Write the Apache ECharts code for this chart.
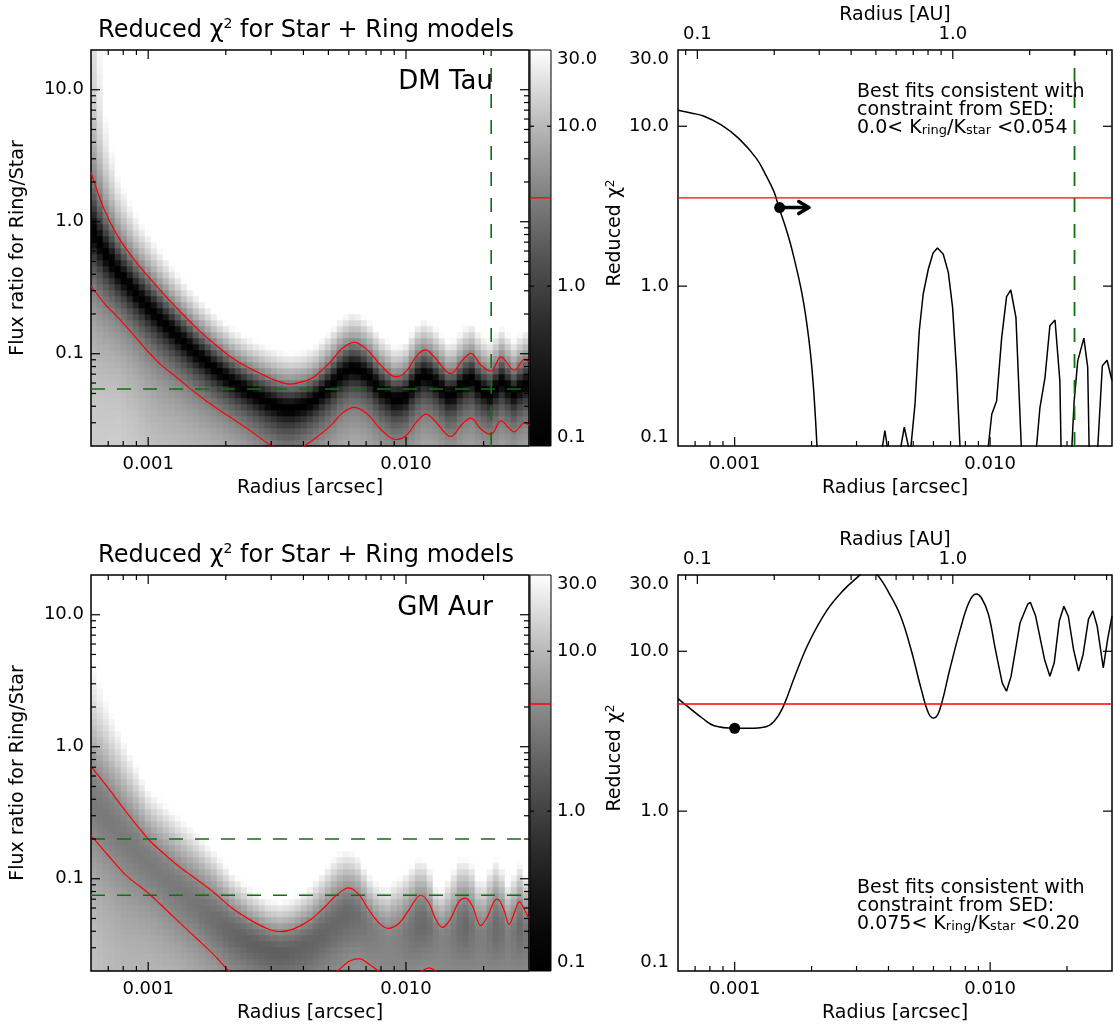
<!DOCTYPE html>
<html><head><meta charset="utf-8">
<script src="https://cdn.jsdelivr.net/npm/echarts@6/dist/echarts.min.js"></script>
<style>html,body{margin:0;padding:0;background:#fff}#c{width:1115px;height:1030px}</style>
</head><body><div id="c"></div><script>
// ---------------- axis ranges & ticks ----------------
const R_MIN = 0.0006, R_MAX = 0.03;          // arcsec
const F_MIN = 0.02, F_MAX = 20;              // flux ratio
const CHI_MIN = 0.1, CHI_MAX = 30;           // reduced chi^2
const DIST_PC = 140;                         // AU per arcsec
const R_MAJOR = [0.001, 0.01];
const R_MINOR = [0.0007, 0.0008, 0.0009, 0.002, 0.003, 0.004, 0.005, 0.006, 0.007, 0.008, 0.009, 0.02];
const F_MAJOR = [0.1, 1, 10];
const F_MINOR = [0.03, 0.04, 0.05, 0.06, 0.07, 0.08, 0.09, 0.2, 0.3, 0.4, 0.5, 0.6, 0.7, 0.8, 0.9, 2, 3, 4, 5, 6, 7, 8, 9];
const AU_MAJOR = [0.1, 1];
const AU_MINOR = [0.09, 0.2, 0.3, 0.4, 0.5, 0.6, 0.7, 0.8, 0.9, 2, 3, 4];
const CHI_MAJOR = [1, 10];

// ---------------- DM Tau ----------------
const DM_NODE_R = [0.000600, 0.000676, 0.000766, 0.000889, 0.001000, 0.001117, 0.001309, 0.001538, 0.001803, 0.002113,
  0.002477, 0.002904, 0.003258, 0.003548, 0.003981, 0.004385, 0.005093, 0.005662, 0.006310, 0.007079,
  0.007980, 0.009120, 0.009977, 0.011066, 0.011940, 0.012853, 0.014928, 0.016558, 0.017865, 0.019543,
  0.021380, 0.023335, 0.026303, 0.028840, 0.030000];
const DM_UPPER = [2.37, 1.23, 0.764, 0.507, 0.385, 0.301, 0.216, 0.157, 0.119, 0.0933,
  0.0776, 0.0668, 0.061, 0.0589, 0.0615, 0.0667, 0.0869, 0.110, 0.122, 0.107,
  0.0819, 0.0667, 0.0728, 0.0977, 0.107, 0.0948, 0.0706, 0.0895, 0.1005, 0.0819,
  0.0737, 0.0948, 0.075, 0.0905, 0.087];
const DM_LOWER = [0.326, 0.241, 0.187, 0.135, 0.1035, 0.083, 0.0646, 0.050, 0.0398, 0.0324,
  0.0263, 0.0210, 0.0185, 0.0178, 0.0198, 0.0224, 0.0284, 0.0355, 0.0393, 0.0349,
  0.0268, 0.0224, 0.0238, 0.031, 0.0349, 0.0315, 0.0236, 0.0295, 0.0325, 0.0268,
  0.0245, 0.031, 0.0256, 0.0301, 0.0287];
const DM_FLOOR = 0.08;
const DM_THRESHOLD = 3.57;
const DM_SED_FLUX = [0.054];
const DM_R_LIMIT = [0.0214];
const DM_CURVE_R = [0.00060, 0.000675, 0.000755, 0.000886, 0.001037, 0.001216, 0.00132, 0.001425, 0.00149, 0.00158,
  0.001667, 0.001836, 0.001955, 0.00203, 0.00210, 0.00225, 0.00370, 0.003793, 0.003873, 0.003954,
  0.00410, 0.00440, 0.004477, 0.004613, 0.004784, 0.00484, 0.00490, 0.00508, 0.00528, 0.00547,
  0.00573, 0.00598, 0.00622, 0.00655, 0.00686, 0.00713, 0.00739, 0.00762, 0.00790, 0.00960,
  0.00984, 0.01015, 0.01060, 0.01110, 0.01160, 0.01205, 0.01262, 0.01324, 0.01360, 0.01490,
  0.01520, 0.01567, 0.01640, 0.01714, 0.01795, 0.01875, 0.01895, 0.01950, 0.02040, 0.02090,
  0.02133, 0.02203, 0.02328, 0.02410, 0.02440, 0.02520, 0.02620, 0.02640, 0.02750, 0.02870, 0.03000];
const DM_CURVE_CHI = [12.6, 12.1, 11.6, 10.2, 8.4, 6.3, 5.0, 3.9, 3.1, 2.35,
  1.75, 0.89, 0.455, 0.244, 0.1, 0.03, 0.03, 0.1, 0.125, 0.1,
  0.03, 0.03, 0.1, 0.131, 0.1, 0.07, 0.1, 0.182, 0.526, 0.893,
  1.28, 1.61, 1.73, 1.59, 1.22, 0.736, 0.295, 0.1, 0.04, 0.04,
  0.1, 0.158, 0.191, 0.478, 0.86, 0.946, 0.638, 0.1, 0.04, 0.04,
  0.1, 0.174, 0.268, 0.565, 0.614, 0.256, 0.1, 0.04, 0.04, 0.1,
  0.191, 0.341, 0.473, 0.31, 0.1, 0.04, 0.04, 0.1, 0.318, 0.344, 0.256];
const DM_SMOOTH_UNTIL = 14;   // the descending branch is a smooth curve
const DM_BEST = [0.0015, 3.1];
const DM_ARROW_END = 0.00195;

// ---------------- GM Aur ----------------
const GM_NODE_R = [0.000600, 0.000692, 0.000813, 0.001000, 0.001117, 0.001309, 0.001538, 0.001803, 0.002113, 0.002477,
  0.002904, 0.003258, 0.003673, 0.004256, 0.004797, 0.005408, 0.005998, 0.006561, 0.007178, 0.007852,
  0.008511, 0.009397, 0.010280, 0.011402, 0.012274, 0.013062, 0.013868, 0.014928, 0.016069, 0.017061,
  0.018113, 0.019498, 0.020701, 0.021979, 0.022646, 0.023988, 0.025119, 0.026303, 0.027542, 0.028840, 0.030000];
const GM_UPPER = [0.71, 0.50, 0.33, 0.20, 0.163, 0.125, 0.099, 0.0783, 0.0601, 0.049,
  0.0418, 0.0397, 0.0417, 0.0489, 0.060, 0.0759, 0.0853, 0.076, 0.058, 0.0463,
  0.0421, 0.046, 0.0583, 0.075, 0.0655, 0.0489, 0.0427, 0.0503, 0.0675, 0.0714,
  0.0618, 0.0441, 0.0518, 0.0675, 0.070, 0.058, 0.045, 0.055, 0.067, 0.058, 0.050];
const GM_LOWER = [0.213, 0.154, 0.108, 0.078, 0.0638, 0.0475, 0.0354, 0.0264, 0.0192, 0.0165,
  0.0145, 0.0138, 0.0140, 0.0155, 0.0175, 0.0200, 0.0236, 0.0248, 0.0226, 0.0198,
  0.0170, 0.0160, 0.0175, 0.0198, 0.0211, 0.0200, 0.0180, 0.0165, 0.0170, 0.0180,
  0.0178, 0.0165, 0.0165, 0.0172, 0.0175, 0.0172, 0.0165, 0.0165, 0.0172, 0.0172, 0.0168];
const GM_VALLEY = [0.40, 0.29, 0.20, 0.135, 0.108, 0.080, 0.062, 0.048, 0.039, 0.033,
  0.029, 0.0275, 0.0285, 0.032, 0.038, 0.046, 0.054, 0.051, 0.043, 0.036,
  0.033, 0.034, 0.039, 0.046, 0.044, 0.038, 0.034, 0.036, 0.042, 0.044,
  0.040, 0.034, 0.036, 0.041, 0.043, 0.040, 0.035, 0.038, 0.042, 0.040, 0.037];
const GM_FLOOR = [3.25, 3.25, 3.3, 3.3, 3.3, 3.2, 3.0, 2.6, 2.2, 2.0,
  1.9, 1.9, 2.0, 2.1, 2.2, 2.3, 2.3, 2.6, 3.2, 3.7,
  3.9, 3.8, 3.0, 2.3, 2.6, 3.4, 3.9, 3.5, 2.7, 2.3,
  2.9, 3.8, 3.3, 2.6, 2.3, 3.0, 3.7, 3.1, 2.4, 2.9, 3.3];
const GM_THRESHOLD = 4.68;
const GM_SED_FLUX = [0.075, 0.20];
const GM_CURVE_R = [0.000600, 0.000665, 0.000755, 0.000831, 0.001000, 0.001140, 0.001315, 0.001425, 0.001540, 0.001720,
  0.001950, 0.002290, 0.002680, 0.003050, 0.003300, 0.003620, 0.004040, 0.004460, 0.004900, 0.005380,
  0.005740, 0.006020, 0.006350, 0.006950, 0.007640, 0.008260, 0.008810, 0.009230, 0.009840, 0.010480,
  0.011150, 0.011590, 0.012080, 0.013100, 0.014030, 0.014380, 0.015070, 0.016330, 0.017140, 0.017820,
  0.018660, 0.019450, 0.020240, 0.021200, 0.022200, 0.023120, 0.024270, 0.025250, 0.026240, 0.027730,
  0.028850, 0.030000];
const GM_CURVE_CHI = [5.06, 4.42, 3.77, 3.42, 3.30, 3.30, 3.36, 3.64, 4.41, 6.98,
  11.3, 17.9, 24.3, 29.4, 33, 30, 22.8, 16.6, 10.3, 5.76,
  4.1, 3.82, 4.31, 7.69, 13.7, 20.2, 22.8, 21.7, 17.1, 10.3,
  6.34, 5.62, 6.98, 15.1, 19.7, 20.2, 16.6, 8.89, 6.98, 8.47,
  15.5, 19.1, 16.5, 10.3, 7.51, 9.55, 15.9, 17.9, 14.4, 7.88,
  11.9, 16.6];
const GM_SMOOTH_UNTIL = 30;
const GM_BEST = [0.001, 3.3];

// ---------------- layout / style ----------------
const FONT = 'DejaVu Sans';
const ROW_TOP = [50, 575], PH = 396;
const HM_BOX = { left: 91, width: 438 };
const CB_BOX = { left: 530, width: 21 };
const RP_BOX = { left: 678, width: 434 };
const NC = 73, NR = 66;
const RED = '#ff0000', GREEN = '#0f700f';
const GRAY_GAMMA = 1.5;
const GRAY_STOPS = Array.from({ length: 11 }, (_, k) => {
  const g = Math.round(255 * Math.pow(k / 10, GRAY_GAMMA));
  return 'rgb(' + g + ',' + g + ',' + g + ')';
});

const isDecade = v => Math.abs(Math.log10(v) - Math.round(Math.log10(v))) < 1e-6;
const range = n => Array.from({ length: n }, (_, i) => String(i));

function interpLog(rs, vs, r, logv) {
  const lr = Math.log10(r);
  let k = 0;
  while (k < rs.length - 2 && Math.log10(rs[k + 1]) < lr) k++;
  const a = Math.log10(rs[k]), b = Math.log10(rs[k + 1]);
  const t = Math.min(1, Math.max(0, (lr - a) / (b - a)));
  if (logv) return Math.pow(10, Math.log10(vs[k]) * (1 - t) + Math.log10(vs[k + 1]) * t);
  return vs[k] * (1 - t) + vs[k + 1] * t;
}
function buildCells(rs, up, lo, ctr, floor, T) {
  const out = [];
  const lr0 = Math.log10(R_MIN), lr1 = Math.log10(R_MAX), lf0 = Math.log10(F_MIN), lf1 = Math.log10(F_MAX);
  for (let i = 0; i < NC; i++) {
    const r = Math.pow(10, lr0 + (i + 0.5) * (lr1 - lr0) / NC);
    const fh = interpLog(rs, up, r, true), fl = interpLog(rs, lo, r, true);
    const uh = fh / (1 + fh), ul = fl / (1 + fl);
    let uc;
    if (ctr) { const fc = interpLog(rs, ctr, r, true); uc = fc / (1 + fc); } else uc = (uh + ul) / 2;
    const cmin = Array.isArray(floor) ? interpLog(rs, floor, r, false) : floor;
    for (let j = 0; j < NR; j++) {
      const f = Math.pow(10, lf0 + (j + 0.5) * (lf1 - lf0) / NR);
      const u = f / (1 + f);
      const t = u >= uc ? (u - uc) / (uh - uc) : (uc - u) / (uc - ul);
      const chi = cmin + (T - cmin) * t * t;
      out.push([i, j, Math.log10(Math.min(CHI_MAX, Math.max(CHI_MIN, chi)))]);
    }
  }
  return out;
}
const zip = (a, b) => a.map((v, i) => [v, b[i]]);

const grids = [], xAxes = [], yAxes = [], series = [], titles = [], heatIdx = [];
const lbl = (extra) => Object.assign({ color: '#000', fontFamily: FONT, fontSize: 18 }, extra);
const nameStyle = { color: '#000', fontFamily: FONT, fontSize: 19 };
const bareAxis = { axisLine: { show: false }, axisTick: { show: false }, splitLine: { show: false }, minorTick: { show: false }, minorSplitLine: { show: false } };

function tickSeries(xi, yi, dim, major, minor, sides, ref, majorLen) {
  const items = major.map(v => [v, 1]).concat(minor.map(v => [v, 0]));
  return {
    type: 'custom', xAxisIndex: xi, yAxisIndex: yi, silent: true, z: 10, clip: false,
    data: items.map(t => dim === 'x' ? [t[0], ref, t[1]] : [ref, t[0], t[1]]),
    encode: { x: 0, y: 1 },
    renderItem(params, api) {
      const cs = params.coordSys;
      const p = api.coord([api.value(0), api.value(1)]);
      const L = api.value(2) ? (majorLen || 9) : 5;
      const ch = [];
      const st = () => ({ stroke: '#000', lineWidth: 1.2 });
      if (dim === 'x') {
        if (sides.includes('b')) ch.push({ type: 'line', shape: { x1: p[0], y1: cs.y + cs.height, x2: p[0], y2: cs.y + cs.height - L }, style: st() });
        if (sides.includes('t')) ch.push({ type: 'line', shape: { x1: p[0], y1: cs.y, x2: p[0], y2: cs.y + L }, style: st() });
      } else {
        if (sides.includes('l')) ch.push({ type: 'line', shape: { x1: cs.x, y1: p[1], x2: cs.x + L, y2: p[1] }, style: st() });
        if (sides.includes('r')) ch.push({ type: 'line', shape: { x1: cs.x + cs.width, y1: p[1], x2: cs.x + cs.width - L, y2: p[1] }, style: st() });
      }
      return { type: 'group', children: ch };
    }
  };
}
function flatLine(xi, yi, pts, color, width, dashed, smooth) {
  return { type: 'line', xAxisIndex: xi, yAxisIndex: yi, data: pts, showSymbol: false, symbol: 'none', silent: true, clip: true,
    smooth: smooth || false, lineStyle: { color, width, type: dashed ? [14, 12] : 'solid' }, z: 4 };
}
function arcsecAxis(g) {
  return Object.assign({ type: 'log', logBase: 10, gridIndex: g, min: R_MIN, max: R_MAX, position: 'bottom',
    axisLabel: lbl({ margin: 9, formatter: v => isDecade(v) ? v.toFixed(3) : '' }),
    name: 'Radius [arcsec]', nameLocation: 'middle', nameGap: 33, nameTextStyle: nameStyle }, bareAxis);
}

function addPanel(p, row) {
  const top = ROW_TOP[row];
  // ----- heatmap (category cells) -----
  const gH = grids.length; grids.push({ left: HM_BOX.left, top, width: HM_BOX.width, height: PH, show: false });
  const xH = xAxes.length; xAxes.push({ type: 'category', gridIndex: gH, show: false, data: range(NC) });
  const yH = yAxes.length; yAxes.push({ type: 'category', gridIndex: gH, show: false, data: range(NR) });
  heatIdx.push(series.length);
  series.push({ type: 'heatmap', xAxisIndex: xH, yAxisIndex: yH, silent: true, progressive: 0, z: 1,
    emphasis: { disabled: true }, data: buildCells(p.nodeR, p.upper, p.lower, p.valley, p.floor, p.T) });
  // ----- log overlay -----
  const gO = grids.length; grids.push({ left: HM_BOX.left, top, width: HM_BOX.width, height: PH, show: true, borderColor: '#000', borderWidth: 1.5, backgroundColor: 'transparent', z: 3 });
  const xO = xAxes.length; xAxes.push(arcsecAxis(gO));
  const yO = yAxes.length; yAxes.push(Object.assign({ type: 'log', logBase: 10, gridIndex: gO, min: F_MIN, max: F_MAX,
    axisLabel: lbl({ margin: 7, formatter: v => isDecade(v) ? v.toFixed(1) : '' }),
    name: 'Flux ratio for Ring/Star', nameLocation: 'middle', nameGap: 63, nameTextStyle: nameStyle }, bareAxis));
  series.push(flatLine(xO, yO, zip(p.nodeR, p.upper), RED, 1.2, false, 0.35));
  series.push(flatLine(xO, yO, zip(p.nodeR, p.lower), RED, 1.2, false, 0.35));
  p.sedFlux.forEach(f => series.push(flatLine(xO, yO, [[R_MIN, f], [R_MAX, f]], GREEN, 1.6, true)));
  p.rLimit.forEach(r => series.push(flatLine(xO, yO, [[r, F_MIN], [r, F_MAX]], GREEN, 1.6, true)));
  series.push(tickSeries(xO, yO, 'x', R_MAJOR, R_MINOR, 'bt', F_MIN));
  series.push(tickSeries(xO, yO, 'y', F_MAJOR, F_MINOR, 'lr', R_MIN));
  // ----- colour bar -----
  const gC = grids.length; grids.push({ left: CB_BOX.left, top, width: CB_BOX.width, height: PH, show: false });
  const xC = xAxes.length; xAxes.push({ type: 'value', gridIndex: gC, min: 0, max: 1, show: false });
  const yC = yAxes.length; yAxes.push(Object.assign({ type: 'log', logBase: 10, gridIndex: gC, min: CHI_MIN, max: CHI_MAX, position: 'right' }, bareAxis, {
    axisLabel: lbl({ margin: 6, formatter: v => v.toFixed(1), verticalAlignMaxLabel: 'top', verticalAlignMinLabel: 'bottom' }) }));
  series.push({ type: 'custom', xAxisIndex: xC, yAxisIndex: yC, silent: true, clip: false, z: 1, data: [[0, CHI_MIN]],
    renderItem(params) {
      const cs = params.coordSys;
      const stops = GRAY_STOPS.map((c, k) => ({ offset: k / (GRAY_STOPS.length - 1), color: c }));
      return { type: 'rect', shape: { x: cs.x, y: cs.y, width: cs.width, height: cs.height },
        style: { fill: new echarts.graphic.LinearGradient(0, 1, 0, 0, stops), stroke: '#000', lineWidth: 1 } };
    } });
  series.push(flatLine(xC, yC, [[0, p.T], [1, p.T]], RED, 1.3, false));
  series.push(tickSeries(xC, yC, 'y', CHI_MAJOR, [], 'lr', 0, 4));
  // ----- chi2 vs radius -----
  const gR = grids.length; grids.push({ left: RP_BOX.left, top, width: RP_BOX.width, height: PH, show: true, borderColor: '#000', borderWidth: 1.5, backgroundColor: 'transparent', z: 3 });
  const xR = xAxes.length; xAxes.push(arcsecAxis(gR));
  const xA = xAxes.length; xAxes.push(Object.assign({ type: 'log', logBase: 10, gridIndex: gR, min: R_MIN * DIST_PC, max: R_MAX * DIST_PC, position: 'top',
    axisLabel: lbl({ margin: 7, formatter: v => isDecade(v) ? v.toFixed(1) : '' }),
    name: 'Radius [AU]', nameLocation: 'middle', nameGap: 25, nameTextStyle: nameStyle }, bareAxis));
  const yR = yAxes.length; yAxes.push(Object.assign({ type: 'log', logBase: 10, gridIndex: gR, min: CHI_MIN, max: CHI_MAX,
    axisLabel: lbl({ margin: 9, formatter: v => v.toFixed(1), verticalAlignMaxLabel: 'top', verticalAlignMinLabel: 'bottom' }),
    name: '{a|Reduced χ}{s|2}', nameLocation: 'middle', nameGap: 47,
    nameTextStyle: { color: '#000', fontFamily: FONT, fontSize: 19, padding: [0, 0, 0, 30],
      rich: { a: { fontFamily: FONT, fontSize: 19, color: '#000', lineHeight: 22 }, s: { fontFamily: FONT, fontSize: 12, color: '#000', lineHeight: 8, verticalAlign: 'top' } } } }, bareAxis));
  const pts = zip(p.curveR, p.curveChi);
  series.push(flatLine(xR, yR, pts.slice(0, p.smoothUntil + 1), '#000', 1.5, false, 0.4));
  series.push(flatLine(xR, yR, pts.slice(p.smoothUntil), '#000', 1.5, false));
  series.push(flatLine(xR, yR, [[R_MIN, p.T], [R_MAX, p.T]], RED, 1.3, false));
  p.rLimit.forEach(r => series.push(flatLine(xR, yR, [[r, CHI_MIN], [r, CHI_MAX]], GREEN, 1.8, true)));
  series.push({ type: 'scatter', xAxisIndex: xR, yAxisIndex: yR, silent: true, z: 6, data: [p.best], symbol: 'circle', symbolSize: 11, itemStyle: { color: '#000', opacity: 1 } });
  if (p.arrowEnd) {
    series.push({ type: 'custom', xAxisIndex: xR, yAxisIndex: yR, silent: true, z: 6, data: [[p.best[0], p.best[1], p.arrowEnd]],
      renderItem(params, api) {
        const a = api.coord([api.value(0), api.value(1)]), b = api.coord([api.value(2), api.value(1)]);
        const st = () => ({ stroke: '#000', lineWidth: 3.5, lineCap: 'round', lineJoin: 'round', fill: null });
        return { type: 'group', children: [
          { type: 'line', shape: { x1: a[0], y1: a[1], x2: b[0], y2: b[1] }, style: st() },
          { type: 'polyline', shape: { points: [[b[0] - 10, b[1] - 6], [b[0], b[1]], [b[0] - 10, b[1] + 6]] }, style: st() }
        ] };
      } });
  }
  series.push(tickSeries(xR, yR, 'x', R_MAJOR, R_MINOR, 'b', CHI_MIN));
  series.push(tickSeries(xA, yR, 'x', AU_MAJOR, AU_MINOR, 't', CHI_MIN));
  series.push(tickSeries(xR, yR, 'y', CHI_MAJOR, [], 'lr', R_MIN));
  // ----- texts -----
  titles.push({ text: '{a|Reduced χ}{s|2}{a| for Star + Ring models}', left: 306, top: top - 33, textAlign: 'center', padding: 0,
    textStyle: { fontWeight: 'normal', rich: { a: { fontFamily: FONT, fontSize: 24, fontWeight: 'normal', color: '#000', lineHeight: 28 }, s: { fontFamily: FONT, fontSize: 14, fontWeight: 'normal', color: '#000', lineHeight: 10, verticalAlign: 'top' } } } });
  titles.push({ text: p.name, left: 493, top: top + p.nameDy, textAlign: 'right', padding: 0,
    textStyle: { fontFamily: FONT, fontSize: 26, color: '#000', fontWeight: 'normal', lineHeight: 30 } });
  titles.push({ text: '{t|Best fits consistent with}\n{t|constraint from SED:}\n{t|' + p.lo + '< K}{b|ring}{t|/K}{b|star}{t| <' + p.hi + '}',
    left: 857, top: top + p.noteDy, padding: 0,
    textStyle: { fontFamily: FONT, fontSize: 19, color: '#000', fontWeight: 'normal', lineHeight: 18,
      rich: { t: { fontFamily: FONT, fontSize: 19, color: '#000', lineHeight: 18 }, b: { fontFamily: FONT, fontSize: 13, color: '#000', lineHeight: 5, verticalAlign: 'bottom' } } } });
}

addPanel({ name: 'DM Tau', nodeR: DM_NODE_R, upper: DM_UPPER, lower: DM_LOWER, valley: null, floor: DM_FLOOR, T: DM_THRESHOLD,
  sedFlux: DM_SED_FLUX, rLimit: DM_R_LIMIT, curveR: DM_CURVE_R, curveChi: DM_CURVE_CHI, smoothUntil: DM_SMOOTH_UNTIL,
  best: DM_BEST, arrowEnd: DM_ARROW_END, lo: '0.0', hi: '0.054', nameDy: 17, noteDy: 33 }, 0);
addPanel({ name: 'GM Aur', nodeR: GM_NODE_R, upper: GM_UPPER, lower: GM_LOWER, valley: GM_VALLEY, floor: GM_FLOOR, T: GM_THRESHOLD,
  sedFlux: GM_SED_FLUX, rLimit: [], curveR: GM_CURVE_R, curveChi: GM_CURVE_CHI, smoothUntil: GM_SMOOTH_UNTIL,
  best: GM_BEST, arrowEnd: null, lo: '0.075', hi: '0.20', nameDy: 18, noteDy: 304 }, 1);

const chart = echarts.init(document.getElementById('c'), null, { renderer: 'canvas' });
chart.setOption({
  animation: false, backgroundColor: '#fff',
  title: titles, grid: grids, xAxis: xAxes, yAxis: yAxes, series,
  visualMap: [{ type: 'continuous', show: false, min: -1, max: Math.log10(CHI_MAX), dimension: 2, seriesIndex: heatIdx,
    inRange: { color: GRAY_STOPS } }]
});
</script></body></html>
